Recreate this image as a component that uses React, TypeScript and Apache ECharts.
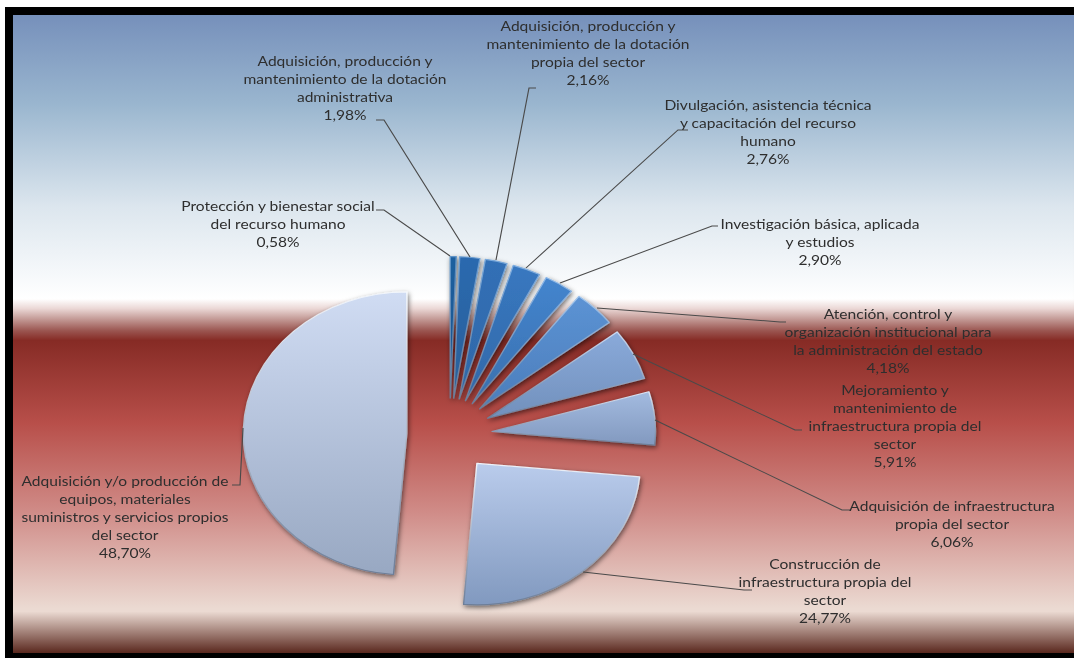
import React, { useEffect, useRef } from "react";
import * as echarts from "echarts";

const categories = [
  "Protección y bienestar social\ndel recurso humano",
  "Adquisición, producción y\nmantenimiento de la dotación\nadministrativa",
  "Adquisición, producción y\nmantenimiento de la dotación\npropia del sector",
  "Divulgación, asistencia técnica\ny capacitación del recurso\nhumano",
  "Investigación básica, aplicada\ny estudios",
  "Atención, control y\norganización institucional para\nla administración del estado",
  "Mejoramiento y\nmantenimiento de\ninfraestructura propia del\nsector",
  "Adquisición de infraestructura\npropia del sector",
  "Construcción de\ninfraestructura propia del\nsector",
  "Adquisición y/o producción de\nequipos, materiales\nsuministros y servicios propios\ndel sector",
];
const values = [0.58, 1.98, 2.16, 2.76, 2.9, 4.18, 5.91, 6.06, 24.77, 48.7];
const sliceTop = ["#1F5F9F", "#2A69AF", "#316FB6", "#3878C0", "#4485CE", "#5C93D4", "#8AAADA", "#A3BBE0", "#BACCEC", "#D0DCF3"];
const sliceBottom = ["#1A5590", "#2A6099", "#2F69A8", "#3268A8", "#396FAE", "#4B7DBB", "#7190BC", "#8299BF", "#8199BF", "#98A8C2"];
const edgeTop = ["#5F94C8", "#6E9FD2", "#78A8DA", "#80AEE0", "#8DB8E8", "#A0C4EC", "#CADAF2", "#DCE6F6", "#EEF3FB", "#F2F6FC"];

// The reference is stretched horizontally, so the chart is drawn narrow and scaled.
const STRETCH = 1.155;
const sx = (x: number) => x / STRETCH;

const labelCenters: [number, number][] = [
  [278, 224], [345, 88], [588, 53], [768, 132], [820, 242],
  [888, 341], [895, 426], [952, 524], [825, 591], [125, 517],
];
const leaderLines: [number, number][][] = [
  [[450, 256], [384, 210], [376, 210]],
  [[470, 257], [384, 120], [376, 120]],
  [[496, 260], [529, 88], [536, 88]],
  [[526, 268], [678, 130], [688, 130]],
  [[560, 283], [712, 226], [718, 226]],
  [[597, 308], [780, 322], [786, 322]],
  [[633, 354], [795, 430], [802, 430]],
  [[655, 420], [842, 510], [850, 510]],
  [[583, 572], [744, 590], [752, 590]],
  [[243, 428], [240, 485], [232, 485]],
];

export default function App() {
  const ref = useRef<HTMLDivElement>(null);
  useEffect(() => {
    document.body.style.margin = "0";
    document.body.style.background = "#fff";
    document.body.style.overflow = "hidden";
    const chart = echarts.init(ref.current!, undefined, { renderer: "svg" });
    chart.setOption({
      animation: false,
      graphic: [
        { type: "rect", z: -10, shape: { x: sx(5), y: 7, width: sx(1069), height: 651 }, style: { fill: "#000" } },
        {
          type: "rect", z: -9, shape: { x: sx(13), y: 15, width: sx(1061), height: 638 },
          style: {
            fill: new echarts.graphic.LinearGradient(0, 0, 0, 1, [
              { offset: 0, color: "#7690BB" },
              { offset: 0.14, color: "#9AB6CF" },
              { offset: 0.3, color: "#DCE6EE" },
              { offset: 0.445, color: "#FFFFFF" },
              { offset: 0.46, color: "#EBD8D6" },
              { offset: 0.475, color: "#C7A09C" },
              { offset: 0.495, color: "#9A5550" },
              { offset: 0.51, color: "#862B25" },
              { offset: 0.64, color: "#B84F4A" },
              { offset: 0.78, color: "#D08C88" },
              { offset: 0.93, color: "#EBDAD2" },
              { offset: 0.935, color: "#EBDAD2" },
              { offset: 1, color: "#5A281E" },
            ]),
          },
        },
        ...leaderLines.map((pts) => ({
          type: "polyline",
          z: 20,
          shape: { points: pts.map(([x, y]) => [sx(x), y]) },
          style: { stroke: "#4A4A4A", lineWidth: 1, fill: "none" },
        })),
        ...categories.map((c, i) => ({
          type: "text",
          z: 21,
          x: sx(labelCenters[i][0]),
          y: labelCenters[i][1],
          style: {
            text: `${c}\n${values[i].toFixed(2).replace(".", ",")}%`,
            fontFamily: "Lato",
            fontSize: 13.5,
            lineHeight: 18,
            fill: "#2E2E2E",
            align: "center",
            verticalAlign: "middle",
          },
        })),
      ],
      series: [
        {
          type: "pie",
          center: [sx(449.5), 435],
          radius: [0, 141.5],
          startAngle: 90,
          clockwise: true,
          selectedMode: "multiple",
          selectedOffset: 37,
          silent: true,
          label: { show: false },
          labelLine: { show: false },
          data: values.map((v, i) => ({
            value: v,
            name: categories[i].replace(/\n/g, " "),
            selected: true,
            itemStyle: {
              color: new echarts.graphic.LinearGradient(0, 0, 0, 1, [
                { offset: 0, color: sliceTop[i] },
                { offset: 1, color: sliceBottom[i] },
              ]),
              borderWidth: 1.2,
              borderColor: new echarts.graphic.LinearGradient(0, 0, 0, 1, [
                { offset: 0, color: edgeTop[i] },
                { offset: 1, color: "#6D7E98" },
              ]),
              shadowBlur: 5,
              shadowColor: "rgba(0,0,0,0.55)",
              shadowOffsetX: 1,
              shadowOffsetY: 2,
            },
          })),
        },
      ],
    });
    return () => chart.dispose();
  }, []);
  return (
    <div
      ref={ref}
      style={{ width: sx(1074), height: 658, transform: `scaleX(${STRETCH})`, transformOrigin: "0 0" }}
    />
  );
}
